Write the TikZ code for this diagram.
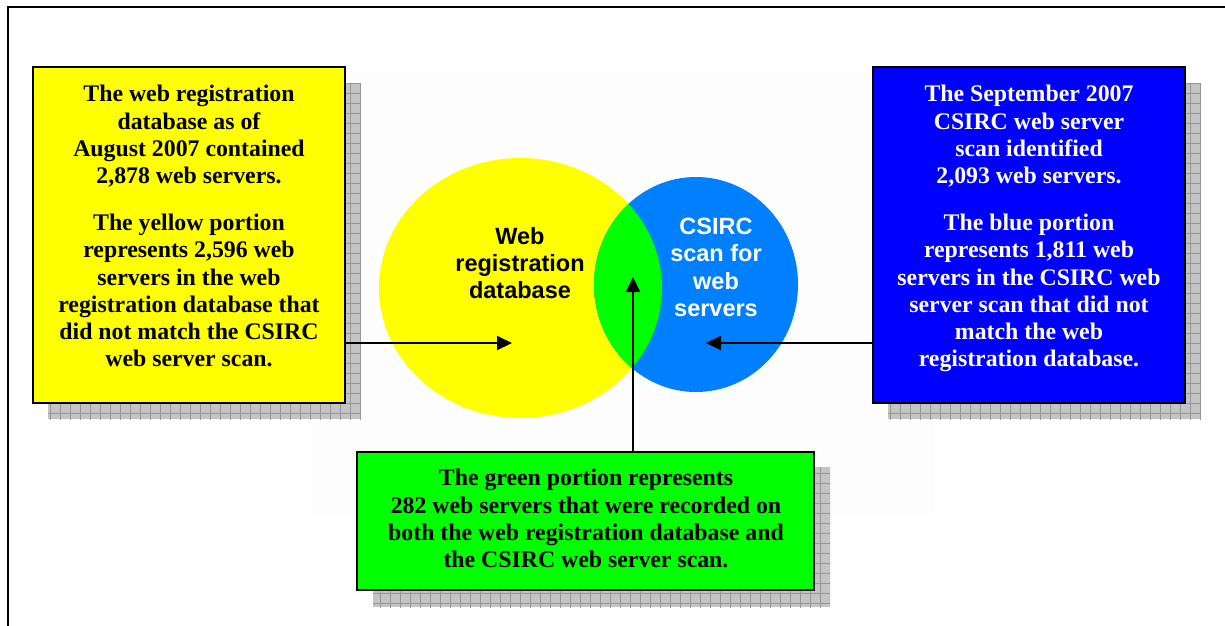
\documentclass[tikz,border=0pt]{standalone}
\usepackage{fontspec}
\setmainfont{Liberation Serif}
\newfontfamily\arialfont{Liberation Sans}
\usetikzlibrary{arrows.meta}

\definecolor{boxyellow}{RGB}{255,255,0}
\definecolor{boxblue}{RGB}{0,0,255}
\definecolor{boxgreen}{RGB}{0,255,0}
\definecolor{scanblue}{RGB}{0,128,255}
\definecolor{shadowfill}{RGB}{196,196,196}
\definecolor{shadowgrid}{RGB}{150,150,150}
\definecolor{panelbg}{RGB}{253,253,253}

\tikzset{
  infobox/.style={draw=black, line width=2pt, inner sep=0pt},
  infotext/.style={anchor=north, inner sep=0pt, align=center,
    font=\bfseries\fontsize{23.8}{27.3}\selectfont},
  venntext/.style={anchor=north, inner sep=0pt, align=center,
    font=\arialfont\bfseries\fontsize{23.5}{27.2}\selectfont},
  pointer/.style={draw=black, line width=2pt,
    -{Triangle[length=15pt,width=14pt]}},
  % grey tiled drop shadow behind a box given by its two corners
  pics/tileshadow/.style args={#1/#2}{code={
    \fill[shadowfill] #1 rectangle #2;
    \begin{scope}
      \clip #1 rectangle #2;
      \foreach \gx in {0,10,...,1230} {\draw[shadowgrid, line width=0.8pt] (\gx,0) -- (\gx,630);}
      \foreach \gy in {3,13,...,633} {\draw[shadowgrid, line width=0.8pt] (0,\gy) -- (1230,\gy);}
    \end{scope}
  }}
}

\begin{document}
\begin{tikzpicture}[x=1pt,y=-1pt]
\useasboundingbox (0,0) rectangle (1225,625);
\fill[white] (0,0) rectangle (1225,625);

% frame, running past the right and bottom edges
\draw[black, line width=2pt] (8,630) -- (8,7) -- (1230,7);

% faint panel behind the Venn diagram
\fill[panelbg] (311,70) rectangle (933,515);

% Venn diagram: yellow set, blue set, green overlap
\fill[boxyellow] (520.5,288) ellipse [x radius=141.5, y radius=130];
\fill[scanblue] (696,284.5) ellipse [x radius=102, y radius=107.5];
\begin{scope}
  \clip (520.5,288) ellipse [x radius=141.5, y radius=130];
  \fill[boxgreen] (696,284.5) ellipse [x radius=102, y radius=107.5];
\end{scope}

\node[venntext] (webdb) at (520,227) {Web\\registration\\database};
\node[venntext, text=white] (scan) at (716,218) {CSIRC\\scan for\\web\\servers};

% shadows
\pic {tileshadow={(48,83)/(361,419)}};
\pic {tileshadow={(888,83)/(1201,419)}};
\pic {tileshadow={(373,467)/(830,607)}};

% explanation boxes
\node[infobox, fill=boxyellow, minimum width=312pt, minimum height=336pt] (yellowbox) at (189,235) {};
\node[infobox, fill=boxblue, minimum width=312pt, minimum height=336pt] (bluebox) at (1029,235) {};
\node[infobox, fill=boxgreen, minimum width=457pt, minimum height=138pt] (greenbox) at (585.5,521) {};

\node[infotext] (ytext) at (189,85)
  {The web registration\\database as of\\August 2007 contained\\2,878 web servers.\\[19.5pt]
   The yellow portion\\represents 2,596 web\\servers in the web\\registration database that\\did not match the CSIRC\\web server scan.};
\node[infotext, text=white] (btext) at (1029,85)
  {The September 2007\\CSIRC web server\\scan identified\\2,093 web servers.\\[19.5pt]
   The blue portion\\represents 1,811 web\\servers in the CSIRC web\\server scan that did not\\match the web\\registration database.};
\node[infotext] (gtext) at (586,469)
  {The green portion represents\\282 web servers that were recorded on\\both the web registration database and\\the CSIRC web server scan.};

% pointers into the three regions
\coordinate (ytip) at (512,343);
\coordinate (btip) at (706,343);
\coordinate (gtip) at (633,277);
\draw[pointer] (ytip -| yellowbox.east) -- (ytip);
\draw[pointer] (btip -| bluebox.west) -- (btip);
\draw[pointer] (gtip |- greenbox.north) -- (gtip);
\end{tikzpicture}
\end{document}
